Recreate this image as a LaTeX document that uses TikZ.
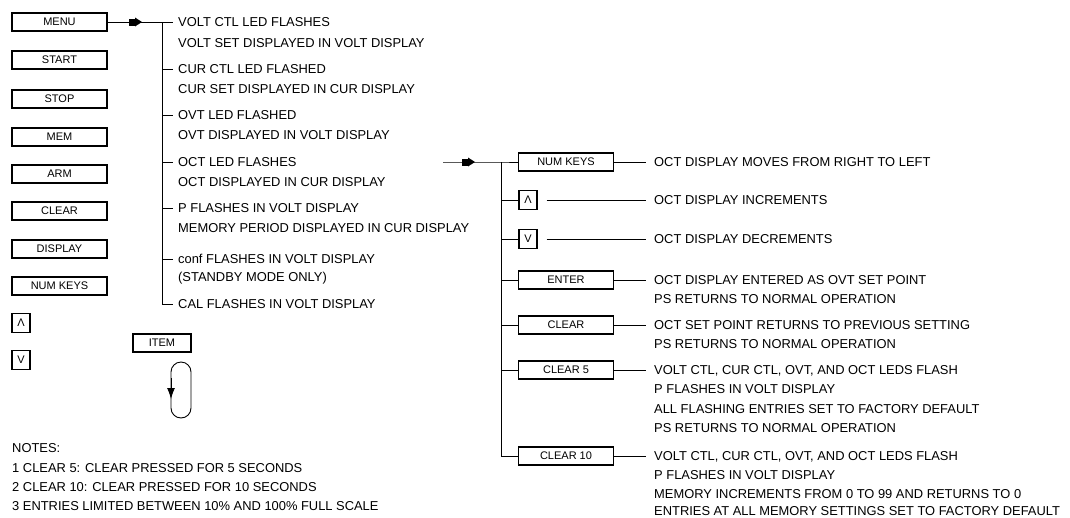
\documentclass[tikz,border=0pt]{standalone}
\usepackage{fontspec}
\setmainfont{Liberation Sans}
\usetikzlibrary{arrows.meta}
\begin{document}
\begin{tikzpicture}[x=1pt,y=-1pt,
  key/.style={draw,line width=1.2pt,minimum width=95pt,minimum height=18pt,inner sep=0pt,font=\fontsize{11}{12}\selectfont},
  smallkey/.style={draw,line width=1.2pt,minimum width=18pt,minimum height=19pt,inner sep=0pt,font=\fontsize{11}{12}\selectfont},
  txt/.style={anchor=west,inner sep=0pt,text height=9pt,text depth=0pt,font=\fontsize{12.9}{14}\selectfont},
  conn/.style={line width=0.9pt},
  flowmark/.pic={\fill (-7,-3.5) rectangle (0,3.5); \fill (-1,-4.5) -- (6,0) -- (-1,4.5) -- cycle;}
  ]
\useasboundingbox (0,0) rectangle (1070,517);
% left keys
\node[key] (menu) at (59.5,22) {MENU};
\node[key] (start) at (59.5,60) {START};
\node[key] (stop) at (59.5,99) {STOP};
\node[key] (mem) at (59.5,137) {MEM};
\node[key] (arm) at (59.5,174) {ARM};
\node[key] (clear) at (59.5,211) {CLEAR};
\node[key] (display) at (59.5,249) {DISPLAY};
\node[key] (numkeys) at (59.5,286) {NUM KEYS};
\node[smallkey] (up) at (21,323) {Λ};
\node[smallkey] (down) at (21,360) {V};
% menu texts
\node[txt] (l1) at (178,22) {VOLT CTL LED FLASHES};
\node[txt] (l2) at (178,43) {VOLT SET DISPLAYED IN VOLT DISPLAY};
\node[txt] (l3) at (178,69) {CUR CTL LED FLASHED};
\node[txt] (l4) at (178,89) {CUR SET DISPLAYED IN CUR DISPLAY};
\node[txt] (l5) at (178,115) {OVT LED FLASHED};
\node[txt] (l6) at (178,135) {OVT DISPLAYED IN VOLT DISPLAY};
\node[txt] (l7) at (178,162) {OCT LED FLASHES};
\node[txt] (l8) at (178,182) {OCT DISPLAYED IN CUR DISPLAY};
\node[txt] (l9) at (178,208) {P FLASHES IN VOLT DISPLAY};
\node[txt] (l10) at (178,228) {MEMORY PERIOD DISPLAYED IN CUR DISPLAY};
\node[txt] (l11) at (178,259) {conf FLASHES IN VOLT DISPLAY};
\node[txt] (l12) at (178,277) {(STANDBY MODE ONLY)};
\node[txt] (l13) at (178,304) {CAL FLASHES IN VOLT DISPLAY};
\coordinate (vbar) at (162,22);
\draw[conn] (menu.east) -- ([xshift=-5pt]l1.west);
\pic at (136,22) {flowmark};
\draw[conn] (vbar) |- ([xshift=-5pt]l13.west);
\foreach \n in {l3,l5,l7,l9,l11}
  \draw[conn] (\n.west -| vbar) -- ([xshift=-5pt]\n.west);
% right side
\coordinate (rstart) at (443,162);
\coordinate (rbar) at (501,162);
\node[key] (rnum) at (566,162) {NUM KEYS};
\node[smallkey] (rup) at (528,200) {Λ};
\node[smallkey] (rdown) at (528,239) {V};
\node[key] (renter) at (566,280) {ENTER};
\node[key] (rclear) at (566,325) {CLEAR};
\node[key] (rclear5) at (566,370) {CLEAR 5};
\node[key] (rclear10) at (566,456) {CLEAR 10};
\draw[conn] (rstart) -- (rbar) -- (rnum.west);
\pic at (469,162) {flowmark};
\draw[conn] (rbar) |- (rclear10.west);
\foreach \n in {rup,rdown,renter,rclear,rclear5}
  \draw[conn] (\n.west -| rbar) -- (\n.west);
\node[txt] (r1) at (654,162) {OCT DISPLAY MOVES FROM RIGHT TO LEFT};
\node[txt] (r2) at (654,200) {OCT DISPLAY INCREMENTS};
\node[txt] (r3) at (654,239) {OCT DISPLAY DECREMENTS};
\node[txt] (r4) at (654,280) {OCT DISPLAY ENTERED AS OVT SET POINT};
\node[txt] (r4b) at (654,299) {PS RETURNS TO NORMAL OPERATION};
\node[txt] (r5) at (654,325) {OCT SET POINT RETURNS TO PREVIOUS SETTING};
\node[txt] (r5b) at (654,344) {PS RETURNS TO NORMAL OPERATION};
\node[txt] (r6) at (654,370) {VOLT CTL, CUR CTL, OVT, AND OCT LEDS FLASH};
\node[txt] (r6b) at (654,389) {P FLASHES IN VOLT DISPLAY};
\node[txt] (r6c) at (654,409) {ALL FLASHING ENTRIES SET TO FACTORY DEFAULT};
\node[txt] (r6d) at (654,428) {PS RETURNS TO NORMAL OPERATION};
\node[txt] (r7) at (654,456) {VOLT CTL, CUR CTL, OVT, AND OCT LEDS FLASH};
\node[txt] (r7b) at (654,475) {P FLASHES IN VOLT DISPLAY};
\node[txt] (r7c) at (654,494) {MEMORY INCREMENTS FROM 0 TO 99 AND RETURNS TO 0};
\node[txt] (r7d) at (654,511) {ENTRIES AT ALL MEMORY SETTINGS SET TO FACTORY DEFAULT};
\foreach \b/\t in {rnum/r1,renter/r4,rclear/r5,rclear5/r6,rclear10/r7}
  \draw[conn] (\b.east) -- ([xshift=-8pt]\t.west);
\foreach \b/\t in {rup/r2,rdown/r3}
  \draw[conn] ([xshift=9pt]\b.east) -- ([xshift=-8pt]\t.west);
% item loop
\node[key,minimum width=58pt] (item) at (162,343) {ITEM};
\draw[conn,rounded corners=10pt] (171,362) rectangle (191,418);
\draw[conn,-{Latex[length=11pt,width=8pt]}] (171,378) -- (171,399);
% notes
\node[txt] (n0) at (12,448) {NOTES:};
\node[txt] (n1) at (12,468) {1 CLEAR 5: CLEAR PRESSED FOR 5 SECONDS};
\node[txt] (n2) at (12,487) {2 CLEAR 10: CLEAR PRESSED FOR 10 SECONDS};
\node[txt] (n3) at (12,506) {3 ENTRIES LIMITED BETWEEN 10\% AND 100\% FULL SCALE};
\end{tikzpicture}
\end{document}
